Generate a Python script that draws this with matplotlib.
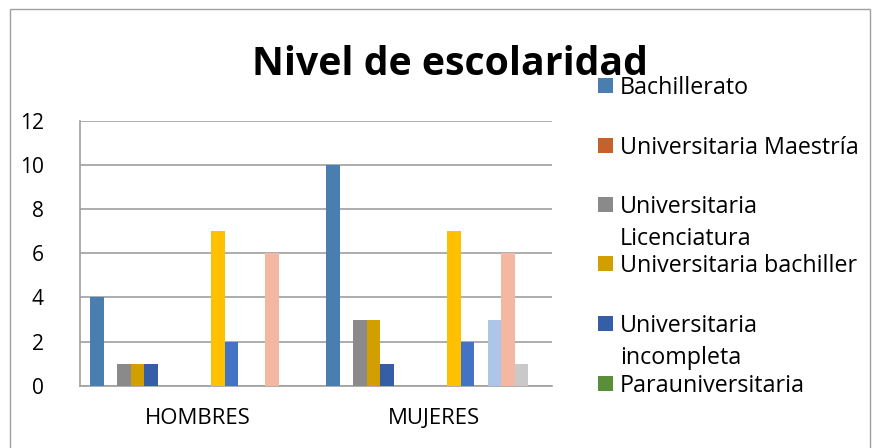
import matplotlib
matplotlib.use("Agg")
import matplotlib.pyplot as plt
from matplotlib.patches import Rectangle

W, H = 879, 448

categories = ["HOMBRES", "MUJERES"]
series_names = ["Bachillerato", "Universitaria Maestría", "Universitaria\nLicenciatura",
                "Universitaria bachiller", "Universitaria\nincompleta", "Parauniversitaria",
                "Serie 7", "Serie 8", "Serie 9", "Serie 10", "Serie 11", "Serie 12",
                "Serie 13", "Serie 14", "Serie 15", "Serie 16"]
hombres = [4, 0, 1, 1, 1, 0, 0, 0, 0, 7, 2, 0, 0, 6, 0, 0]
mujeres = [10, 0, 3, 3, 1, 0, 0, 0, 0, 7, 2, 0, 3, 6, 1, 0]
yticks = [0, 2, 4, 6, 8, 10, 12]
colors = ["#4A7EB0", "#C5622B", "#8A8A8A", "#D29E00", "#365EA8", "#5A8F3A",
          "#5B9BD5", "#ED7D31", "#A5A5A5", "#FFC000", "#4472C4", "#70AD47",
          "#ADC5E7", "#F4B8A2", "#C9C9C9", "#FFD966"]

FONT = "Open Sans"

def fx(x):
    return x / W

def fy(y):
    return 1 - y / H

fig = plt.figure(figsize=(W / 100, H / 100), dpi=100)
fig.patch.set_facecolor("white")
renderer = fig.canvas.get_renderer()

def fitted_size(s, target_w, weight="normal"):
    t = fig.text(0, 0, s, fontsize=20, family=FONT, fontweight=weight)
    wpx = t.get_window_extent(renderer).width
    t.remove()
    return 20 * target_w / wpx

# outer frame
fig.patches.append(Rectangle((fx(10), fy(470)), fx(870) - fx(10), fy(9) - fy(470),
                             transform=fig.transFigure, fill=False,
                             edgecolor="#A0A0A0", linewidth=1.0))

ax_l, ax_r, ax_t, ax_b = 80, 552, 121, 385.7
ax = fig.add_axes([fx(ax_l), fy(ax_b), fx(ax_r) - fx(ax_l), fy(ax_t) - fy(ax_b)])

n = len(series_names)
w = 1 / (n + 1.5)
for i in range(n):
    xs = [c + (i - (n - 1) / 2) * w for c in range(len(categories))]
    ax.bar(xs, [hombres[i], mujeres[i]], width=w, color=colors[i], linewidth=0, zorder=3)

tick_fs = fitted_size("12", 24)
cat_fs = fitted_size("HOMBRES", 106)
leg_fs = fitted_size("Universitaria Maestría", 238)
title_fs = fitted_size("Nivel de escolaridad", 396, "bold")

ax.set_xlim(-0.5, len(categories) - 0.5)
ax.set_ylim(0, 12)
ax.set_yticks(yticks)
ax.set_yticklabels([str(t) for t in yticks], fontsize=tick_fs, family=FONT)
ax.set_xticks(range(len(categories)))
ax.set_xticklabels(categories, fontsize=cat_fs, family=FONT)
ax.tick_params(axis="y", length=0, pad=26)
ax.tick_params(axis="x", length=0, pad=16)
ax.grid(axis="y", color="#A0A0A0", linewidth=1.2, zorder=0)
for s in ["top", "right"]:
    ax.spines[s].set_visible(False)
for s in ["left", "bottom"]:
    ax.spines[s].set_color("#A0A0A0")
    ax.spines[s].set_linewidth(1.2)

# title
fig.text(fx(450), fy(75), "Nivel de escolaridad", ha="center", va="baseline",
         fontsize=title_fs, fontweight="bold", family=FONT)

# legend (first six series, as in the reference)
baselines = [94, 154, 213, 272, 332, 392]
line_gap = 31.5
for i, yb in enumerate(baselines):
    fig.patches.append(Rectangle((fx(598), fy(yb - 1)), fx(15), 15 / H,
                                 transform=fig.transFigure, facecolor=colors[i],
                                 edgecolor="none"))
    for k, line in enumerate(series_names[i].split("\n")):
        fig.text(fx(620), fy(yb + k * line_gap), line, ha="left", va="baseline",
                 fontsize=leg_fs, family=FONT)

fig.savefig("out.png", dpi=100)
